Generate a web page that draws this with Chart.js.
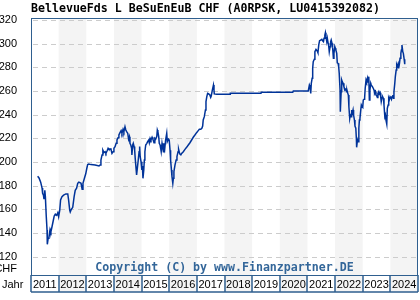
<!DOCTYPE html>
<html lang="de">
<head>
    <meta charset="UTF-8">
    <title>BellevueFds L BeSuEnEuB CHF</title>
    <script src="https://cdn.jsdelivr.net/npm/chart.js"></script>
    <style>
        * { margin: 0; padding: 0; box-sizing: border-box; }
        body { background: #fff; }
        canvas { display: block; }
    </style>
</head>
<body>
    <canvas id="fundChart" width="420" height="300"></canvas>

    <script>
        const title = 'BellevueFds L BeSuEnEuB CHF (A0RPSK, LU0415392082)';
        const copyright = 'Copyright (C) by www.Finanzpartner.DE';
        const years = [2011, 2012, 2013, 2014, 2015, 2016, 2017, 2018, 2019, 2020, 2021, 2022, 2023, 2024];
        const yTicks = [120, 140, 160, 180, 200, 220, 240, 260, 280, 300, 320];

        // dates as decimal years, prices in CHF
        const dates = [
            2011.24, 2011.29, 2011.35, 2011.40, 2011.42, 2011.45, 2011.47, 2011.50, 2011.52, 2011.55,
            2011.58, 2011.59, 2011.62, 2011.65, 2011.69, 2011.72, 2011.76, 2011.81, 2011.84, 2011.88,
            2011.93, 2011.97, 2012.00, 2012.04, 2012.07, 2012.12, 2012.18, 2012.26, 2012.33, 2012.36,
            2012.40, 2012.42, 2012.46, 2012.51, 2012.56, 2012.60, 2012.65, 2012.69, 2012.73, 2012.77,
            2012.81, 2012.85, 2012.88, 2012.93, 2012.98, 2013.02, 2013.05, 2013.09, 2013.17, 2013.32,
            2013.46, 2013.50, 2013.53, 2013.57, 2013.60, 2013.64, 2013.68, 2013.71, 2013.75, 2013.79,
            2013.82, 2013.89, 2013.93, 2013.97, 2014.00, 2014.04, 2014.08, 2014.11, 2014.15, 2014.18,
            2014.22, 2014.26, 2014.29, 2014.33, 2014.36, 2014.40, 2014.43, 2014.46, 2014.50, 2014.53,
            2014.56, 2014.58, 2014.61, 2014.64, 2014.65, 2014.68, 2014.70, 2014.73, 2014.75, 2014.77,
            2014.80, 2014.82, 2014.85, 2014.88, 2014.91, 2014.93, 2014.95, 2014.98, 2015.01, 2015.03,
            2015.05, 2015.08, 2015.10, 2015.12, 2015.15, 2015.19, 2015.22, 2015.26, 2015.28, 2015.31,
            2015.34, 2015.38, 2015.41, 2015.45, 2015.48, 2015.51, 2015.55, 2015.57, 2015.59, 2015.62,
            2015.64, 2015.67, 2015.69, 2015.71, 2015.74, 2015.76, 2015.79, 2015.81, 2015.84, 2015.87,
            2015.91, 2015.93, 2015.97, 2016.00, 2016.03, 2016.05, 2016.08, 2016.10, 2016.13, 2016.15,
            2016.17, 2016.21, 2016.25, 2016.28, 2016.32, 2016.34, 2016.38, 2016.42, 2016.45, 2016.51,
            2016.57, 2016.63, 2016.69, 2016.75, 2016.81, 2016.87, 2016.93, 2016.99, 2017.05, 2017.09,
            2017.14, 2017.18, 2017.21, 2017.23, 2017.27, 2017.31, 2017.33, 2017.36, 2017.39, 2017.43,
            2017.47, 2017.50, 2017.52, 2017.56, 2017.60, 2017.62, 2017.63, 2017.72, 2018.20, 2018.21,
            2019.32, 2019.33, 2020.47, 2020.49, 2021.03, 2021.07, 2021.09, 2021.12, 2021.14, 2021.17,
            2021.19, 2021.21, 2021.25, 2021.27, 2021.31, 2021.35, 2021.38, 2021.41, 2021.44, 2021.48,
            2021.52, 2021.55, 2021.58, 2021.60, 2021.63, 2021.65, 2021.67, 2021.70, 2021.72, 2021.75,
            2021.77, 2021.79, 2021.82, 2021.84, 2021.86, 2021.89, 2021.91, 2021.94, 2021.96, 2021.99,
            2022.01, 2022.03, 2022.06, 2022.08, 2022.11, 2022.13, 2022.15, 2022.18, 2022.19, 2022.22,
            2022.24, 2022.26, 2022.29, 2022.32, 2022.36, 2022.39, 2022.41, 2022.43, 2022.46, 2022.48,
            2022.50, 2022.53, 2022.55, 2022.58, 2022.60, 2022.62, 2022.65, 2022.67, 2022.70, 2022.72,
            2022.75, 2022.77, 2022.78, 2022.81, 2022.83, 2022.86, 2022.88, 2022.90, 2022.93, 2022.95,
            2022.98, 2023.00, 2023.02, 2023.05, 2023.07, 2023.09, 2023.12, 2023.14, 2023.17, 2023.19,
            2023.22, 2023.24, 2023.26, 2023.29, 2023.31, 2023.35, 2023.38, 2023.41, 2023.43, 2023.46,
            2023.48, 2023.51, 2023.53, 2023.55, 2023.58, 2023.60, 2023.63, 2023.65, 2023.67, 2023.70,
            2023.72, 2023.75, 2023.77, 2023.80, 2023.82, 2023.84, 2023.87, 2023.89, 2023.92, 2023.94,
            2023.96, 2023.99, 2024.01, 2024.04, 2024.06, 2024.09, 2024.11, 2024.13, 2024.16, 2024.18,
            2024.21, 2024.23, 2024.25, 2024.28, 2024.30, 2024.33, 2024.35, 2024.38, 2024.40, 2024.42,
            2024.45, 2024.47, 2024.50, 2024.52
        ];
        const prices = [
            188.0, 186.5, 183.0, 178.0, 173.5, 172.0, 168.5, 176.0, 170.7, 155.0,
            142.5, 130.4, 135.5, 136.3, 143.0, 141.0, 145.3, 151.0, 154.4, 156.0,
            155.0, 157.2, 153.8, 159.4, 168.0, 170.7, 172.0, 173.0, 173.0, 168.0,
            159.4, 157.8, 160.0, 161.7, 170.7, 176.0, 177.8, 182.0, 183.0, 182.5,
            182.0, 177.0, 182.0, 186.0, 190.0, 194.7, 197.8, 198.3, 197.8, 197.5,
            196.6, 197.5, 201.7, 206.0, 210.0, 208.0, 208.7, 207.3, 209.3, 211.6,
            210.7, 211.0, 207.3, 208.7, 211.6, 213.0, 215.8, 218.6, 220.6, 222.8,
            224.8, 226.5, 224.3, 227.6, 225.6, 229.8, 227.0, 225.6, 224.3, 219.3,
            221.4, 215.8, 214.4, 211.6, 206.0, 214.4, 215.8, 213.0, 210.0, 203.1,
            194.6, 189.0, 195.5, 201.7, 208.7, 213.0, 204.5, 200.3, 193.3, 196.6,
            186.2, 193.3, 201.7, 208.7, 214.4, 215.8, 217.2, 218.6, 216.3, 220.0,
            218.6, 220.9, 219.3, 216.3, 220.0, 219.3, 221.4, 227.0, 225.6, 221.4,
            215.8, 214.4, 211.6, 208.7, 215.8, 213.0, 208.7, 215.8, 211.6, 218.6,
            224.3, 217.2, 219.3, 218.6, 210.0, 201.7, 193.3, 187.6, 182.0, 186.2,
            191.9, 197.5, 201.7, 204.5, 208.7, 210.7, 206.8, 206.0, 207.3, 208.7,
            210.7, 212.4, 214.4, 216.3, 218.6, 220.9, 222.8, 224.8, 226.5, 227.6,
            227.6, 228.5, 230.4, 235.5, 238.3, 244.0, 251.0, 255.2, 258.0, 257.5,
            256.6, 254.6, 255.8, 260.8, 265.0, 260.8, 257.5, 257.2, 257.2, 258.0,
            258.0, 259.0, 259.0, 260.0, 260.0, 265.0, 263.7, 258.0, 266.5, 270.7,
            279.2, 284.8, 286.8, 293.2, 295.2, 294.0, 292.3, 298.9, 302.5, 303.1,
            303.7, 302.5, 301.7, 304.5, 307.3, 309.3, 306.0, 301.7, 304.5, 300.3,
            298.0, 293.2, 297.5, 301.7, 303.1, 300.3, 296.9, 287.6, 291.8, 297.5,
            296.1, 294.6, 291.8, 283.9, 283.4, 280.6, 275.0, 260.8, 242.5, 259.4,
            269.3, 267.9, 266.5, 263.7, 260.8, 262.3, 259.4, 260.8, 258.0, 256.6,
            246.7, 236.9, 239.7, 238.3, 244.0, 241.1, 244.0, 239.7, 235.5, 230.4,
            228.5, 220.0, 212.4, 218.6, 217.2, 228.5, 235.5, 236.9, 244.0, 248.2,
            246.7, 246.2, 252.4, 253.0, 254.6, 262.3, 269.3, 267.9, 270.7, 267.0,
            272.1, 252.4, 260.8, 266.5, 265.0, 263.7, 262.3, 260.8, 258.0, 259.4,
            256.6, 255.8, 254.6, 258.0, 259.4, 257.5, 258.6, 255.2, 251.0, 254.6,
            255.2, 253.8, 248.2, 238.3, 239.7, 235.5, 232.0, 245.4, 248.2, 253.8,
            252.4, 255.2, 254.6, 253.0, 255.2, 256.6, 253.8, 259.4, 266.5, 272.1,
            277.7, 282.0, 280.6, 282.9, 279.2, 283.4, 287.6, 291.8, 294.6, 298.9,
            293.2, 291.8, 286.8, 282.6
        ];

        const frameColor = '#2f5f8f';
        const bandColor = '#f4f4f4';
        const gridColor = '#cccccc';
        const monoFont = 'bold 11.6px "DejaVu Sans Mono", monospace';
        const labelFont = '11px "Liberation Sans", Arial, sans-serif';

        // year bands, dashed grid, frame, year boxes and the texts around the plot
        const decorations = {
            id: 'decorations',
            beforeDraw(chart) {
                const { ctx, chartArea: a, scales: { x } } = chart;
                ctx.save();
                ctx.fillStyle = bandColor;
                years.forEach(y => {
                    if (y % 2 === 0) {
                        const x0 = x.getPixelForValue(y);
                        const x1 = x.getPixelForValue(y + 1);
                        ctx.fillRect(x0, a.top, x1 - x0, a.bottom + 17 - a.top);
                    }
                });
                ctx.restore();
            },
            beforeDatasetsDraw(chart) {
                const { ctx, chartArea: a, scales: { y } } = chart;
                ctx.save();
                ctx.strokeStyle = gridColor;
                ctx.lineWidth = 1;
                ctx.setLineDash([5, 4]);
                ctx.beginPath();
                yTicks.forEach(v => {
                    const py = Math.round(y.getPixelForValue(v)) + 0.5;
                    ctx.moveTo(a.left + 2, py);
                    ctx.lineTo(a.right, py);
                });
                ctx.stroke();
                ctx.restore();
            },
            afterDraw(chart) {
                const { ctx, chartArea: a, scales: { x } } = chart;
                ctx.save();
                ctx.strokeStyle = frameColor;
                ctx.lineWidth = 1;
                ctx.strokeRect(a.left + 0.5, a.top + 0.5, a.right - a.left - 1, a.bottom - a.top);

                // year boxes
                const boxTop = a.bottom;
                const boxBottom = a.bottom + 17;
                ctx.lineWidth = 1.5;
                ctx.beginPath();
                ctx.moveTo(a.left, boxBottom);
                ctx.lineTo(a.right, boxBottom);
                years.concat([years[years.length - 1] + 1]).forEach(y => {
                    const px = Math.round(x.getPixelForValue(y));
                    ctx.moveTo(px, boxTop);
                    ctx.lineTo(px, boxBottom);
                });
                ctx.stroke();

                ctx.fillStyle = '#000';
                ctx.font = labelFont;
                ctx.textAlign = 'center';
                ctx.textBaseline = 'middle';
                years.forEach(y => {
                    ctx.fillText(String(y), x.getPixelForValue(y + 0.5), (boxTop + boxBottom) / 2 + 1);
                });
                ctx.textAlign = 'left';
                ctx.fillText('Jahr', 2, (boxTop + boxBottom) / 2 + 1);

                // title and copyright
                ctx.font = monoFont;
                ctx.fillStyle = '#000';
                ctx.textAlign = 'left';
                ctx.fillText(title, 31, 9);
                ctx.fillStyle = '#336699';
                ctx.textAlign = 'center';
                ctx.fillText(copyright, (a.left + a.right) / 2, 268);
                ctx.restore();
            }
        };

        const fundChart = new Chart(document.getElementById('fundChart'), {
            type: 'line',
            data: {
                datasets: [{
                    data: dates.map((d, i) => ({ x: d, y: prices[i] })),
                    borderColor: '#003399',
                    borderWidth: 1.5,
                    pointRadius: 0,
                    tension: 0,
                    fill: false
                }]
            },
            options: {
                responsive: false,
                devicePixelRatio: 1,
                animation: false,
                layout: { padding: { top: 18, right: 2, bottom: 25, left: 0 } },
                plugins: {
                    legend: { display: false },
                    tooltip: { enabled: false }
                },
                scales: {
                    x: {
                        type: 'linear',
                        display: false,
                        min: 2011,
                        max: 2025
                    },
                    y: {
                        type: 'linear',
                        min: 104.5,
                        max: 321.7,
                        afterFit: scale => { scale.width = 31; },
                        afterBuildTicks: scale => {
                            scale.ticks = [{ value: 110 }].concat(yTicks.map(v => ({ value: v })));
                        },
                        border: { display: false },
                        grid: { display: false },
                        ticks: {
                            padding: 6,
                            color: '#000',
                            font: { family: '"Liberation Sans", Arial, sans-serif', size: 11 },
                            callback: v => (v === 110 ? 'CHF' : v)
                        }
                    }
                }
            },
            plugins: [decorations]
        });
    </script>
</body>
</html>
